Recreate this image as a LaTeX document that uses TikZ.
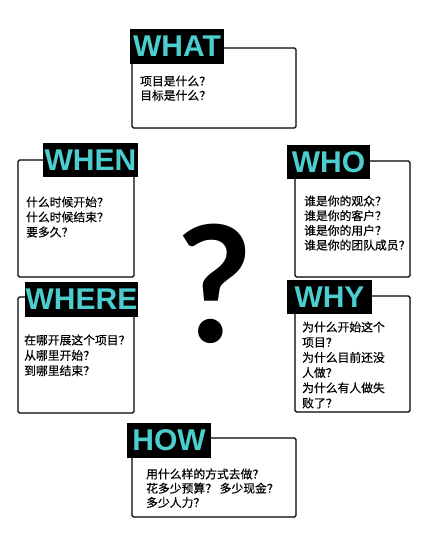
\documentclass[tikz,border=0pt]{standalone}
\usepackage{fontspec}
\setmainfont{Liberation Sans}
\newfontfamily\cjk{Noto Sans CJK SC}[FakeBold=0.4]
\newfontfamily\qfont{Lato}
\definecolor{labelcyan}{RGB}{76,206,206}
\begin{document}
\begin{tikzpicture}[x=1pt,y=-1pt,
  qbox/.style={draw=black, line width=1.2pt, rounded corners=1.5pt, fill=white, inner sep=0pt},
  qlabel/.style={fill=black, text=labelcyan, inner sep=0pt, font=\fontsize{30}{30}\selectfont\bfseries},
  qtext/.style={anchor=base west, inner sep=0pt, font=\cjk\fontsize{11.8}{14.7}\selectfont}]
\useasboundingbox (0,0) rectangle (430,544);
% boxes
\node[qbox, minimum width=164pt, minimum height=80pt] (whatbox) at (214,88) {};
\node[qbox, minimum width=116pt, minimum height=117pt] (whenbox) at (76,218.5) {};
\node[qbox, minimum width=115pt, minimum height=116pt] (whobox) at (352.5,219) {};
\node[qbox, minimum width=116pt, minimum height=116pt] (wherebox) at (76,355) {};
\node[qbox, minimum width=115pt, minimum height=116pt] (whybox) at (352.5,354) {};
\node[qbox, minimum width=164pt, minimum height=79pt] (howbox) at (214,477.5) {};
% labels
\node[qlabel, minimum width=94pt, minimum height=35pt] (whatlabel) at (177,46.5) {WHAT};
\node[qlabel, minimum width=95pt, minimum height=34pt] (whenlabel) at (90.5,160) {WHEN};
\node[qlabel, minimum width=83pt, minimum height=34pt] (wholabel) at (328.5,162) {WHO};
\node[qlabel, minimum width=113pt, minimum height=35pt] (wherelabel) at (81.5,299.5) {WHERE};
\node[qlabel, minimum width=85pt, minimum height=34pt] (whylabel) at (329.5,297) {WHY};
\node[qlabel, minimum width=84pt, minimum height=35pt] (howlabel) at (169,440.5) {HOW};
% texts
\node[qtext] (whattext) at (140,85.5) {\vtop{\baselineskip=14.3pt\hbox{项目是什么？}\hbox{目标是什么？}}};
\node[qtext] (whentext) at (26,206.5) {\vtop{\baselineskip=15pt\hbox{什么时候开始？}\hbox{什么时候结束？}\hbox{要多久？}}};
\node[qtext] (whotext) at (304,205.5) {\vtop{\baselineskip=14.7pt\hbox{谁是你的观众？}\hbox{谁是你的客户？}\hbox{谁是你的用户？}\hbox{谁是你的团队成员？}}};
\node[qtext] (wheretext) at (24,344.5) {\vtop{\baselineskip=15.3pt\hbox{在哪开展这个项目？}\hbox{从哪里开始？}\hbox{到哪里结束？}}};
\node[qtext] (whytext) at (302,331.5) {\vtop{\baselineskip=15.2pt\hbox{为什么开始这个}\hbox{项目？}\hbox{为什么目前还没}\hbox{人做？}\hbox{为什么有人做失}\hbox{败了？}}};
\node[qtext] (howtext) at (146,478.5) {\vtop{\baselineskip=14.2pt\hbox{用什么样的方式去做？}\hbox{花多少预算？ 多少现金？}\hbox{多少人力？}}};
% big question mark
\node[inner sep=0pt, font=\qfont\bfseries\fontsize{162}{162}\selectfont] (qmark) at (214.5,283.5) {?};
\end{tikzpicture}
\end{document}
